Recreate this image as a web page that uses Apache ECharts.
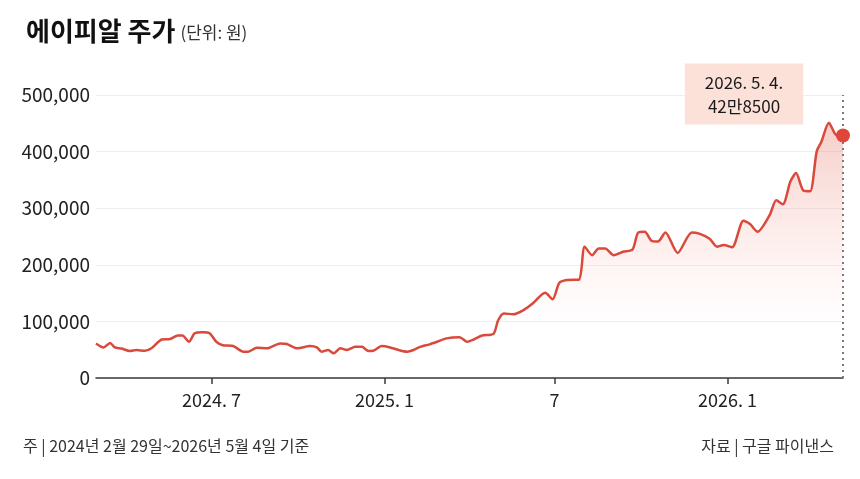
<!DOCTYPE html>
<html>
<head>
<meta charset="utf-8">
<script src="https://cdn.jsdelivr.net/npm/echarts@6/dist/echarts.min.js"></script>
<style>
  html, body { margin: 0; padding: 0; background: #fff; }
  #chart { width: 860px; height: 479px; }
</style>
</head>
<body>
<div id="chart"></div>
<script>
// 에이피알 주가 (원), 2024-02-29 ~ 2026-05-04
var dates = [
  '2024-02-29', '2024-03-08', '2024-03-15', '2024-03-20', '2024-03-27', '2024-04-05',
  '2024-04-12', '2024-04-21', '2024-04-28', '2024-05-09', '2024-05-18', '2024-05-26',
  '2024-05-31', '2024-06-07', '2024-06-13', '2024-06-22', '2024-06-29', '2024-07-06',
  '2024-07-13', '2024-07-24', '2024-08-04', '2024-08-09', '2024-08-18', '2024-08-29',
  '2024-09-12', '2024-09-19', '2024-09-30', '2024-10-14', '2024-10-21', '2024-10-26',
  '2024-11-02', '2024-11-08', '2024-11-15', '2024-11-22', '2024-12-01', '2024-12-08',
  '2024-12-15', '2024-12-20', '2024-12-29', '2025-01-07', '2025-01-16', '2025-01-25',
  '2025-02-01', '2025-02-08', '2025-02-18', '2025-02-26', '2025-03-08', '2025-03-22',
  '2025-03-30', '2025-04-06', '2025-04-15', '2025-04-27', '2025-05-02', '2025-05-08',
  '2025-05-18', '2025-05-29', '2025-06-08', '2025-06-21', '2025-06-29', '2025-07-06',
  '2025-07-14', '2025-07-27', '2025-08-02', '2025-08-10', '2025-08-17', '2025-08-24',
  '2025-09-02', '2025-09-12', '2025-09-22', '2025-09-28', '2025-10-05', '2025-10-12',
  '2025-10-19', '2025-10-27', '2025-11-09', '2025-11-24', '2025-12-02', '2025-12-13',
  '2025-12-21', '2025-12-28', '2026-01-06', '2026-01-18', '2026-01-25', '2026-02-02',
  '2026-02-15', '2026-02-22', '2026-03-01', '2026-03-09', '2026-03-15', '2026-03-23',
  '2026-03-30', '2026-04-06', '2026-04-11', '2026-04-19', '2026-04-27', '2026-05-04'
];
var prices = [
  61000, 54000, 62000, 54000, 52000, 47700,
  49500, 48000, 52500, 68000, 69000, 75000,
  75000, 64000, 79000, 81000, 79000, 64000,
  58000, 56500, 46500, 46500, 53500, 52500,
  61000, 60000, 52500, 56500, 54000, 46500,
  49500, 43600, 52500, 49500, 55000, 55000,
  47700, 48000, 56500, 54000, 49500, 46500,
  49500, 55000, 59500, 64000, 70000, 72000,
  64000, 68000, 75000, 78000, 102000, 114000,
  112500, 120000, 132000, 150700, 139000, 168000,
  173000, 174000, 232000, 217000, 229000, 229000,
  217000, 223000, 227000, 257000, 258500, 242600,
  241000, 257000, 221000, 257000, 255000, 246000,
  232000, 235000, 231000, 278000, 272000, 258500,
  288000, 314000, 307000, 347000, 362000, 331000,
  330000, 400000, 417500, 451000, 429000, 428500
];
var tickDates = ['2024-07-01', '2025-01-01', '2025-07-01', '2026-01-01'];
var tickLabels = ['2024. 7', '2025. 1', '7', '2026. 1'];
var yTicks = [0, 100000, 200000, 300000, 400000, 500000];

var FONT = '"Noto Sans CJK KR", "Noto Sans", sans-serif';
var LINE = '#d9493c';

function stamp(d) { return Date.UTC(+d.slice(0, 4), +d.slice(5, 7) - 1, +d.slice(8, 10)); }

var tickStamps = tickDates.map(stamp);
var lineData = dates.map(function (d, i) { return [stamp(d), prices[i]]; });
var last = lineData[lineData.length - 1];
var lastDate = dates[dates.length - 1];

function wonLabel(v) {
  return Math.floor(v / 10000) + '만' + (v % 10000);
}
function dateLabel(d) {
  var p = d.split('-');
  return p[0] + '. ' + (+p[1]) + '. ' + (+p[2]) + '.';
}

var chart = echarts.init(document.getElementById('chart'));
chart.setOption({
  animation: false,
  backgroundColor: '#fff',
  title: [
    {
      left: 21, top: 13,
      text: '{a|에이피알 주가} {b|(단위: 원)}',
      textStyle: {
        rich: {
          a: { fontFamily: FONT, fontSize: 26, fontWeight: 'bold', color: '#111' },
          b: { fontFamily: FONT, fontSize: 17, fontWeight: 'normal', color: '#333', padding: [4, 0, 0, 0] }
        }
      }
    },
    {
      left: 18, top: 433,
      text: '주 | 2024년 2월 29일~2026년 5월 4일 기준',
      textStyle: { fontFamily: FONT, fontSize: 16, fontWeight: 'normal', color: '#333' }
    },
    {
      right: 21, top: 433,
      text: '자료 | 구글 파이낸스',
      textStyle: { fontFamily: FONT, fontSize: 16, fontWeight: 'normal', color: '#333' }
    }
  ],
  grid: { left: 96, right: 17, top: 95, bottom: 101 },
  xAxis: {
    type: 'value',
    min: lineData[0][0],
    max: last[0],
    axisLine: { show: true, onZero: false, lineStyle: { color: '#3a3a3a', width: 1.5 } },
    axisTick: {
      show: true, length: 6, customValues: tickStamps,
      lineStyle: { color: '#3a3a3a', width: 1.5 }
    },
    axisLabel: {
      customValues: tickStamps,
      margin: 13,
      fontFamily: FONT, fontSize: 18, color: '#222',
      formatter: function (val) {
        var i = tickStamps.indexOf(+val);
        return i >= 0 ? tickLabels[i] : '';
      }
    },
    splitLine: { show: false }
  },
  yAxis: {
    type: 'value',
    min: yTicks[0],
    max: yTicks[yTicks.length - 1],
    interval: yTicks[1] - yTicks[0],
    axisLine: { show: false },
    axisTick: { show: false },
    axisLabel: {
      margin: 6,
      fontFamily: FONT, fontSize: 19, color: '#222',
      formatter: function (v) { return v.toLocaleString('en-US'); }
    },
    splitLine: { lineStyle: { color: '#efefef', width: 1 } }
  },
  series: [
    {
      type: 'line',
      data: lineData,
      smooth: 0.25,
      showSymbol: false,
      lineStyle: { color: LINE, width: 2.5 },
      areaStyle: {
        color: new echarts.graphic.LinearGradient(0, 0, 0, 1, [
          { offset: 0, color: 'rgba(222, 88, 72, 0.42)' },
          { offset: 0.45, color: 'rgba(236, 120, 105, 0.18)' },
          { offset: 0.8, color: 'rgba(245, 160, 150, 0.0)' },
          { offset: 1, color: 'rgba(255, 255, 255, 0)' }
        ])
      },
      markLine: {
        silent: true,
        symbol: 'none',
        label: { show: false },
        lineStyle: { color: '#7a7a7a', width: 2, type: [2, 4] },
        data: [{ xAxis: last[0] }]
      },
      z: 3
    },
    {
      type: 'scatter',
      data: [last],
      symbolSize: 14,
      itemStyle: { color: '#e0463a', opacity: 1 },
      label: {
        show: true,
        position: 'top',
        distance: 4,
        offset: [-99, 0],
        formatter: function (p) {
          return dateLabel(lastDate) + '\n' + wonLabel(p.value[1]);
        },
        backgroundColor: '#fce1d9',
        padding: [7, 20, 6, 20],
        lineHeight: 24,
        opacity: 1,
        fontFamily: FONT, fontSize: 17, color: '#1a1a1a', align: 'center'
      },
      z: 5
    }
  ]
});

window.addEventListener('resize', function () { chart.resize(); });
</script>
</body>
</html>
